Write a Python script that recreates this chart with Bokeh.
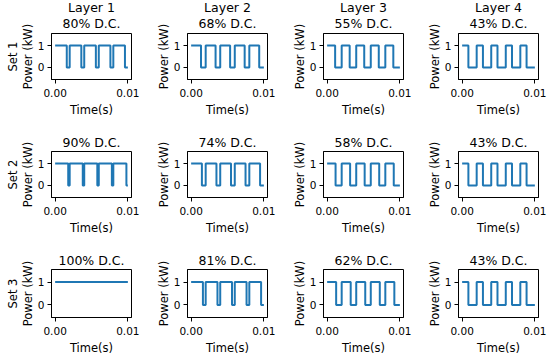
from bokeh.plotting import figure
from bokeh.layouts import gridplot
from bokeh.models import Title, Range1d, FixedTicker, NumeralTickFormatter
from bokeh.embed import file_html
from bokeh.resources import INLINE

# ---- data ----
set_names = ["Set 1", "Set 2", "Set 3"]
layer_names = ["Layer 1", "Layer 2", "Layer 3", "Layer 4"]
duty_cycles = [
    [80, 68, 55, 43],
    [90, 74, 58, 43],
    [100, 81, 62, 43],
]
period_s = 0.002
n_pulses = 5
power_on_kw = 1
power_off_kw = 0
x_ticks = [0.0, 0.01]
y_ticks = [0, 1]

FONT = "DejaVu Sans"
COLOR = "#1f77b4"

col_w = [143, 136, 136, 135]
col_l = [51, 44, 44, 43]
row_h = [119, 118, 120]


def pulse_train(dc):
    d = dc / 100.0
    xs, ys = [0.0], [power_on_kw]
    for k in range(n_pulses):
        t0 = k * period_s
        xs.append(t0 + d * period_s); ys.append(power_on_kw)
        if d < 1:
            xs.append(t0 + d * period_s); ys.append(power_off_kw)
            xs.append(t0 + period_s); ys.append(power_off_kw)
            if k < n_pulses - 1:
                xs.append(t0 + period_s); ys.append(power_on_kw)
    return xs, ys


rows = []
for r, set_name in enumerate(set_names):
    row = []
    for c, layer in enumerate(layer_names):
        dc = duty_cycles[r][c]
        p = figure(width=col_w[c], height=row_h[r], output_backend="svg",
                   toolbar_location=None,
                   x_range=Range1d(-0.0005, 0.0105), y_range=Range1d(-0.55, 1.55),
                   min_border_left=col_l[c], min_border_right=12,
                   min_border_top=32, min_border_bottom=row_h[r] - 32 - 49,
                   background_fill_color="white", border_fill_color="white")
        title_kw = dict(align="center", text_font=FONT, text_font_size="12.5px",
                        text_font_style="normal", text_color="black")
        p.title.text = layer if r == 0 else f"{dc}% D.C."
        p.title.align = "center"
        p.title.text_font = FONT
        p.title.text_font_size = "12.5px"
        p.title.text_font_style = "normal"
        p.title.text_color = "black"
        p.title.standoff = -6 if r == 0 else 4
        if r == 0:
            p.add_layout(Title(text=f"{dc}% D.C.", standoff=5, **title_kw), "above")
        xs, ys = pulse_train(dc)
        p.line(xs, ys, line_color=COLOR, line_width=2)

        p.xgrid.visible = False
        p.ygrid.visible = False
        p.outline_line_color = "black"
        p.outline_line_width = 1
        p.outline_line_alpha = 1

        p.xaxis.ticker = FixedTicker(ticks=x_ticks)
        p.xaxis.formatter = NumeralTickFormatter(format="0.00")
        p.yaxis.ticker = FixedTicker(ticks=y_ticks)
        p.xaxis.axis_label = "Time(s)"
        p.yaxis.axis_label = "Power (kW)"
        for ax in (p.xaxis, p.yaxis):
            ax.minor_tick_line_color = None
            ax.major_tick_out = 4
            ax.major_tick_in = 0
            ax.axis_line_color = "black"
            ax.major_tick_line_color = "black"
            ax.major_label_text_font = FONT
            ax.major_label_text_font_size = "10.5px"
            ax.major_label_text_color = "black"
            ax.axis_label_text_font = FONT
            ax.axis_label_text_font_size = "11.5px"
            ax.axis_label_text_font_style = "normal"
            ax.axis_label_text_color = "black"
        p.xaxis.major_label_standoff = 5
        p.xaxis.axis_label_standoff = 3
        p.yaxis.major_label_standoff = 3
        p.yaxis.axis_label_standoff = 0
        if c == 0:
            p.add_layout(Title(text=set_name, align="center", text_font=FONT,
                               text_font_size="11.5px", text_font_style="normal",
                               text_color="black", standoff=-4), "left")
        row.append(p)
    rows.append(row)

g = gridplot(rows, toolbar_location=None)

open("out.html", "w").write(file_html(g, INLINE))
